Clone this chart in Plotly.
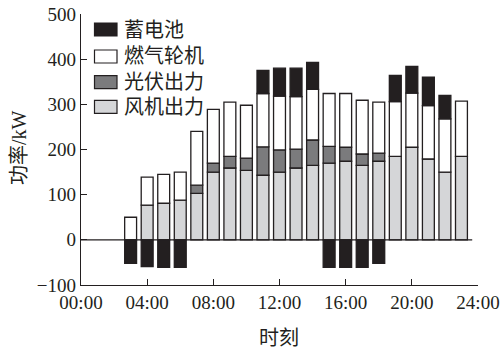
import plotly.graph_objects as go

# Hourly power balance (kW)
hours = list(range(3, 24))
wind = [0, 77, 81, 88, 103, 150, 159, 154, 143, 150, 159, 165, 170, 174, 165, 174, 185, 205, 179, 150, 185]
pv = [0, 0, 0, 0, 18, 20, 26, 27, 63, 49, 42, 56, 37, 31, 25, 18, 0, 0, 0, 0, 0]
gas = [50, 62, 64, 62, 119, 119, 120, 117, 118, 119, 116, 112, 117, 119, 119, 113, 121, 120, 118, 118, 122]
storage = [-52, -59, -61, -61, 0, 0, 0, 0, 51, 62, 63, 60, -61, -61, -61, -52, 58, 59, 63, 52, 0]

x_ticks = [0, 4, 8, 12, 16, 20, 24]
x_ticktext = ["00:00", "04:00", "08:00", "12:00", "16:00", "20:00", "24:00"]
y_ticks = [-100, 0, 100, 200, 300, 400, 500]

series = [
    ("风机出力", wind, "#d5d6d8"),
    ("光伏出力", pv, "#7b7b7d"),
    ("燃气轮机", gas, "#ffffff"),
    ("蓄电池", storage, "#231f20"),
]

W, H = 503, 350
ML, MR, MT, MB = 81, 25, 14, 65
SERIF = "Liberation Serif, Noto Sans CJK SC"
INK = "#231f20"

fig = go.Figure()
for name, vals, color in series:
    fig.add_trace(go.Bar(
        x=hours,
        y=[v if v != 0 else None for v in vals],
        name=name,
        width=0.72,
        marker=dict(color=color, line=dict(color=INK, width=1.3)),
        showlegend=False,
    ))


def px_x(p):
    return (p - ML) / (W - ML - MR)


def px_y(p):
    return 1 - (p - MT) / (H - MT - MB)


# legend drawn as wide swatches with labels
shapes = []
annotations = []
legend_rows = [("蓄电池", "#231f20", 29.5), ("燃气轮机", "#ffffff", 56.5),
               ("光伏出力", "#7b7b7d", 82.2), ("风机出力", "#d5d6d8", 106.8)]
for label, color, cy in legend_rows:
    shapes.append(dict(type="rect", xref="paper", yref="paper",
                       x0=px_x(94.5), x1=px_x(117), y0=px_y(cy - 6.5), y1=px_y(cy + 6.5),
                       fillcolor=color, line=dict(color=INK, width=1.2)))
    annotations.append(dict(xref="paper", yref="paper", x=px_x(122), y=px_y(cy),
                            xanchor="left", yanchor="middle", text=label, showarrow=False,
                            font=dict(family=SERIF, size=20, color=INK)))

# axis titles
annotations.append(dict(xref="paper", yref="paper", x=px_x(279), y=px_y(338),
                        xanchor="center", yanchor="middle", text="时刻", showarrow=False,
                        font=dict(family=SERIF, size=20, color=INK)))
annotations.append(dict(xref="paper", yref="paper", x=px_x(19), y=px_y(148),
                        xanchor="center", yanchor="middle", text="功率/kW", showarrow=False,
                        textangle=-90, font=dict(family=SERIF, size=20, color=INK)))

# zero reference line
shapes.append(dict(type="line", xref="x", yref="y", x0=0, x1=23.65, y0=0, y1=0,
                   line=dict(color=INK, width=1.3)))

axis_common = dict(ticks="inside", ticklen=6, tickcolor=INK, tickwidth=1.2,
                   showline=True, linecolor=INK, linewidth=1.3,
                   showgrid=False, zeroline=False, automargin=False,
                   tickfont=dict(family=SERIF, size=19, color=INK))

fig.update_layout(
    width=W, height=H,
    margin=dict(l=ML, r=MR, t=MT, b=MB),
    barmode="relative",
    plot_bgcolor="white", paper_bgcolor="white",
    shapes=shapes, annotations=annotations,
    font=dict(family=SERIF, color=INK),
    xaxis=dict(range=[0, 24], tickvals=x_ticks, ticktext=x_ticktext, **axis_common),
    yaxis=dict(range=[-100, 500], tickvals=y_ticks, **axis_common),
)

fig.write_html("out.html")
